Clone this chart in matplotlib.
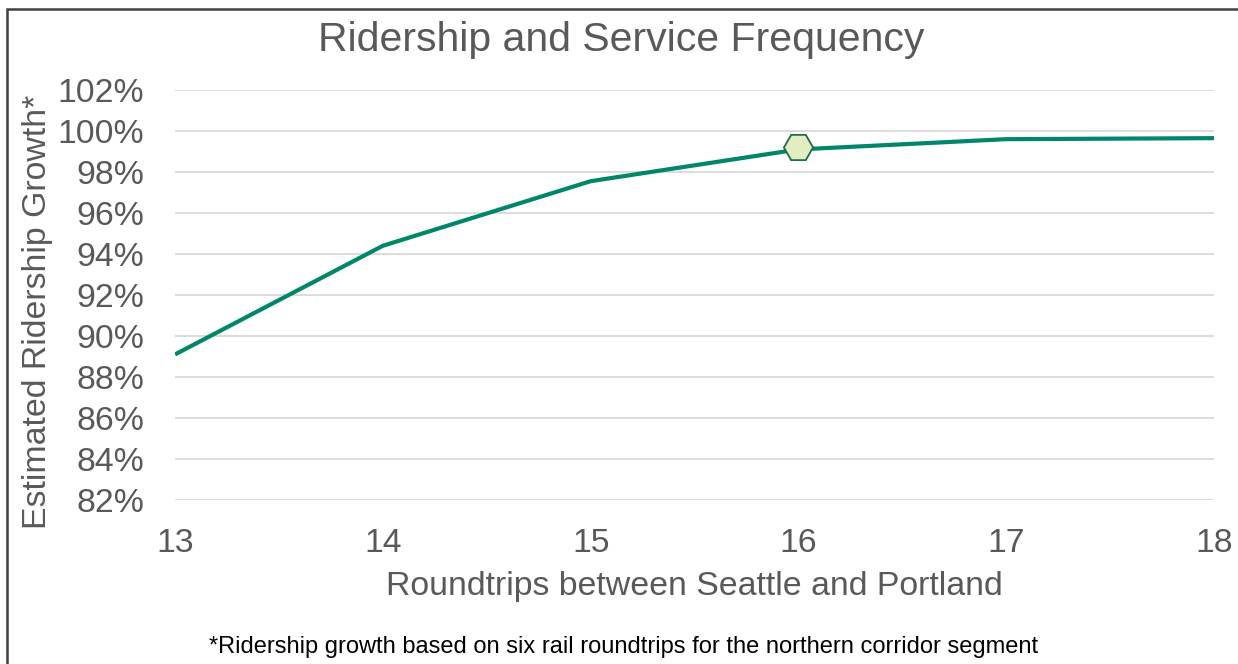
import matplotlib.pyplot as plt
from matplotlib.patches import Rectangle
from matplotlib.ticker import FuncFormatter

plt.rcParams['font.family'] = ['Liberation Sans', 'DejaVu Sans']

# roundtrips per day vs. estimated ridership growth (%)
roundtrips = [13, 14, 15, 16, 17, 18]
growth = [89.1, 94.4, 97.55, 99.1, 99.6, 99.65]
# highlighted service level
marker_x = [16]
marker_y = [99.2]

grey = "#595959"

fig = plt.figure(figsize=(12.38, 6.64), dpi=100)
ax = fig.add_axes([0.1414, 0.247, 0.8392, 0.6175])

ax.plot(roundtrips, growth, color="#00876A", lw=3.0, solid_capstyle="butt", zorder=3)
ax.plot(marker_x, marker_y, marker="H", ms=21, mfc="#E2EDC0", mec="#1E6B4D",
        mew=1.3, ls="none", zorder=4)

ax.set_xlim(13, 18)
ax.set_ylim(82, 102)
ax.set_xticks(roundtrips)
ax.set_yticks(range(82, 103, 2))
ax.yaxis.set_major_formatter(FuncFormatter(lambda v, p: f"{v:.0f}%"))
ax.grid(axis="y", color="#D9D9D9", lw=1.3)
ax.set_axisbelow(True)
for s in ax.spines.values():
    s.set_visible(False)
ax.tick_params(length=0, labelsize=24.3, labelcolor=grey)
ax.tick_params(axis="x", pad=20)
ax.tick_params(axis="y", pad=22)

ax.set_xlabel("Roundtrips between Seattle and Portland", fontsize=24.4, color=grey, labelpad=9)
ax.set_ylabel("Estimated Ridership Growth*", fontsize=24.4, color=grey)
ax.yaxis.set_label_coords(-0.117, 0.458)

fig.text(0.502, 0.94, "Ridership and Service Frequency", fontsize=29.5, color=grey,
         ha="center", va="center")
fig.text(0.504, 0.025, "*Ridership growth based on six rail roundtrips for the northern corridor segment",
         fontsize=17, color="black", ha="center", va="center")

# outer frame
fig.add_artist(Rectangle((7 / 1238, -0.05), 1.1, 0.05 + (664 - 9) / 664, transform=fig.transFigure,
                         fill=False, ec="#404040", lw=1.8))

fig.savefig("out.png", dpi=100, facecolor="white")
